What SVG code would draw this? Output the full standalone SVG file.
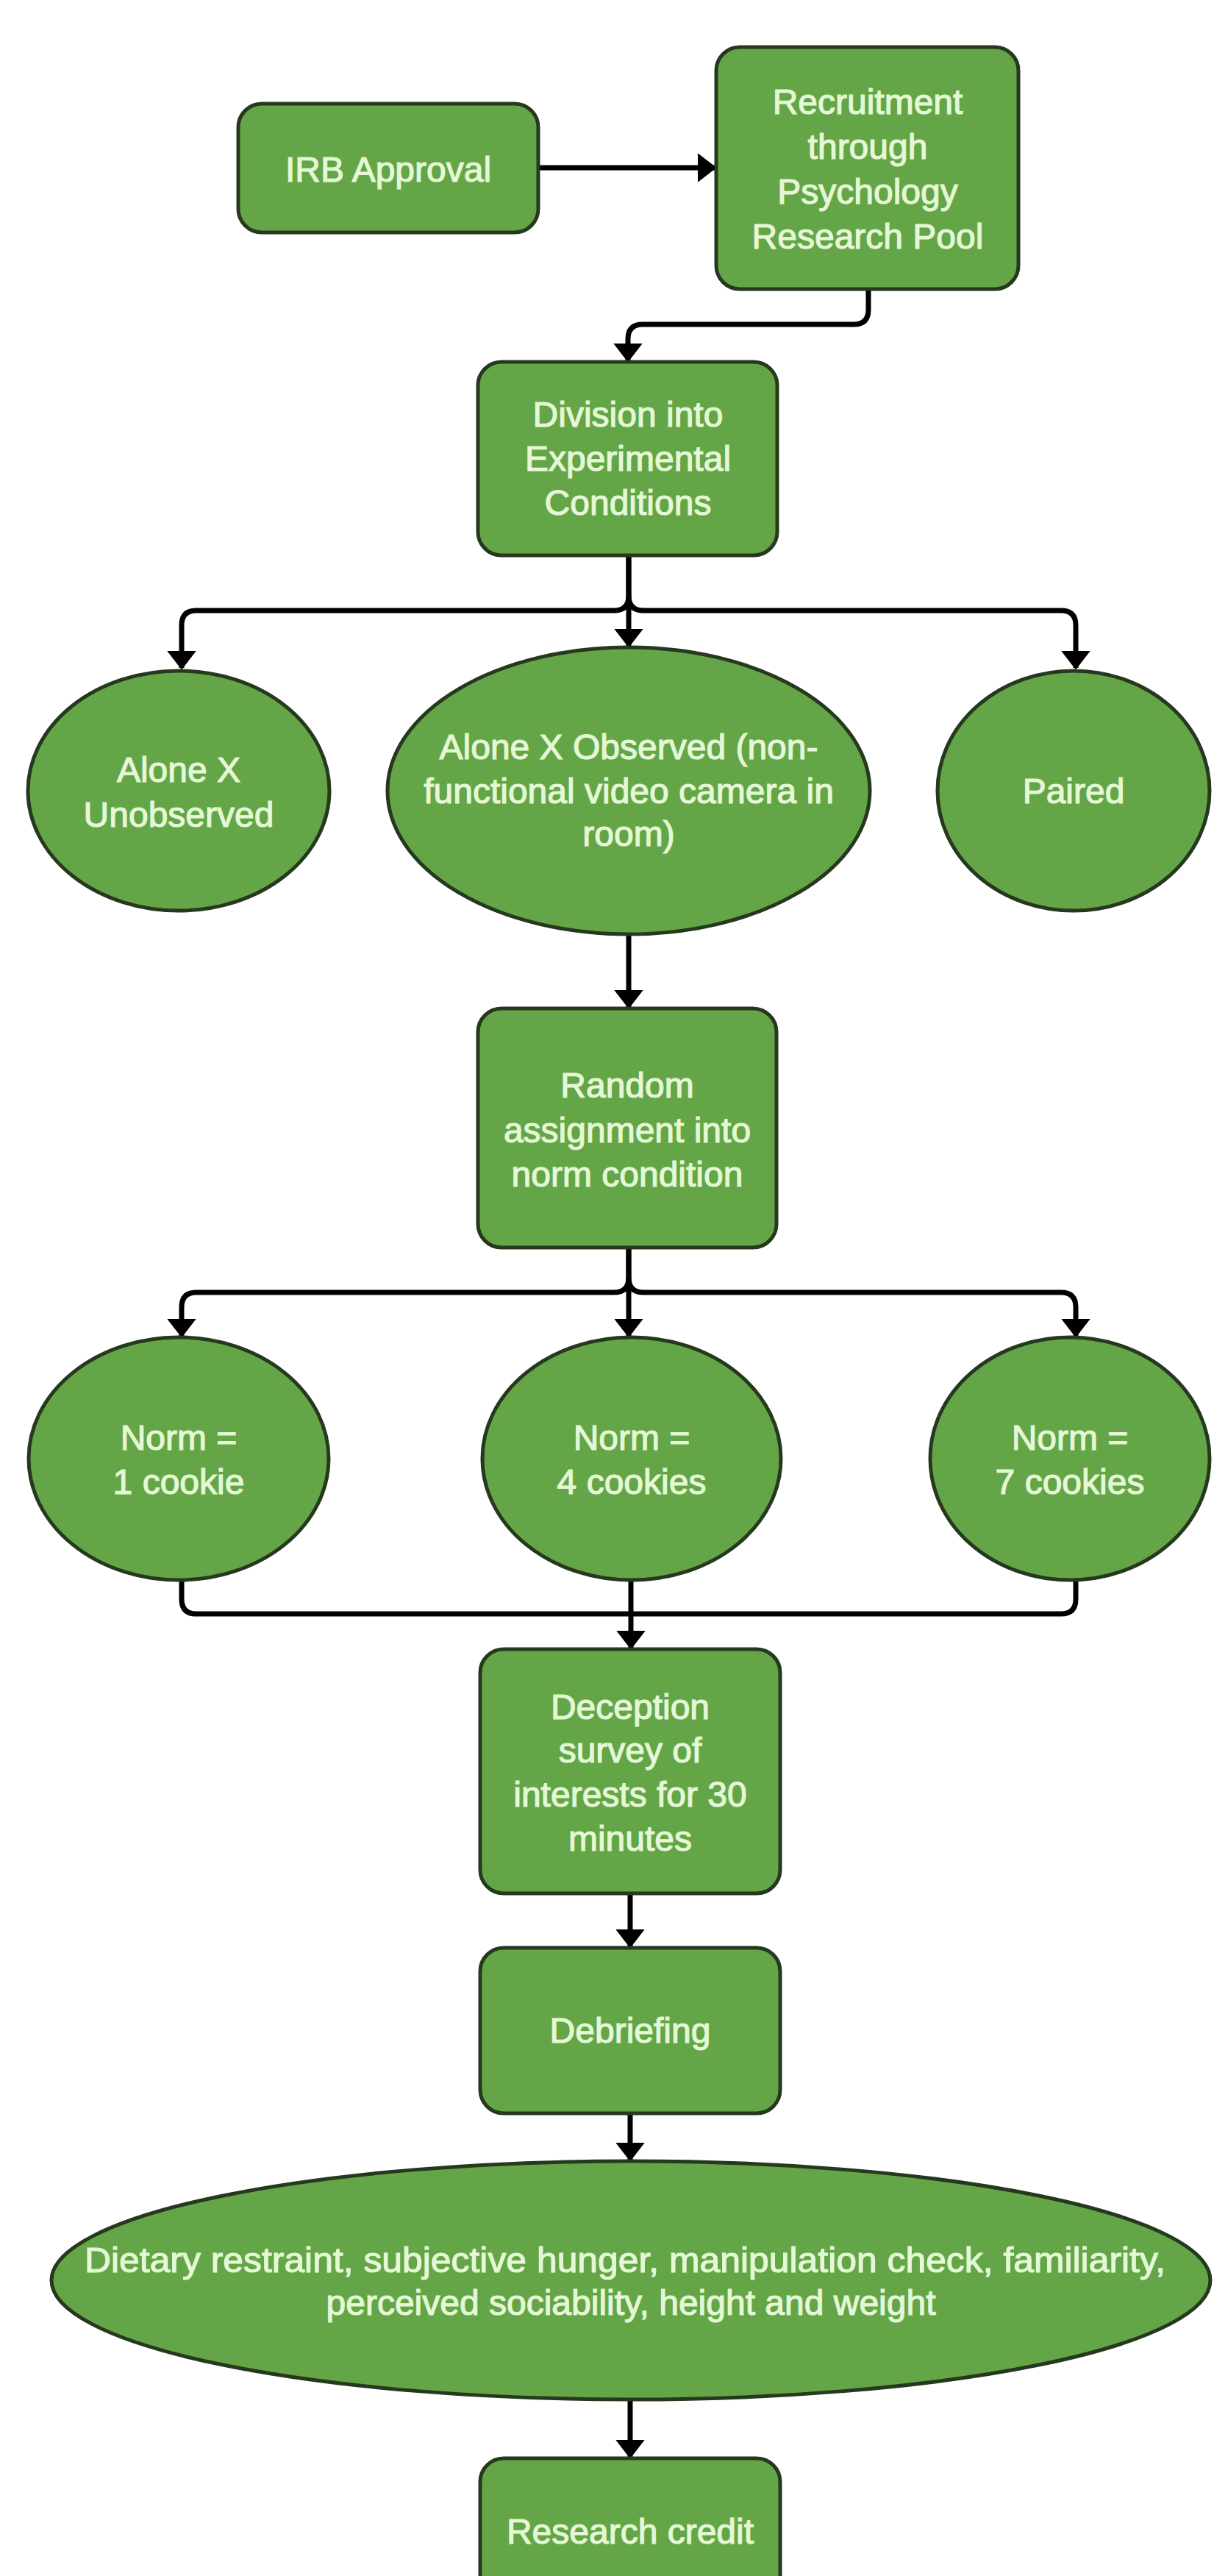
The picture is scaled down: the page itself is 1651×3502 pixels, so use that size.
<svg xmlns="http://www.w3.org/2000/svg" width="1651" height="3502" viewBox="0 0 1651 3502">
<defs>
<style>
.n{fill:#64a647;stroke:#26391f;stroke-width:5}
.t{font-family:"Liberation Sans",Arial,sans-serif;font-size:48px;fill:#e4f8d6;stroke:#e4f8d6;stroke-width:1.2;text-anchor:middle}
.c{fill:none;stroke:#000;stroke-width:7;stroke-linejoin:round}
</style>
<marker id="ah" viewBox="0 0 10 10" refX="9" refY="5" markerUnits="userSpaceOnUse" markerWidth="26" markerHeight="40" preserveAspectRatio="none" orient="auto">
<path d="M0,0 L10,5 L0,10 z" fill="#000"/>
</marker>
</defs>
<rect width="1651" height="3502" fill="#fff"/>
<g id="connectors">
<path class="c" d="M733,228 H972" marker-end="url(#ah)"/>
<path class="c" d="M1181,393 V421 Q1181,441 1161,441 H874 Q854,441 854,461 V490" marker-end="url(#ah)"/>
<path class="c" d="M855,755 V810 Q855,830 835,830 H267 Q247,830 247,850 V908" marker-end="url(#ah)"/>
<path class="c" d="M855,810 Q855,830 875,830 H1443 Q1463,830 1463,850 V908" marker-end="url(#ah)"/>
<path class="c" d="M855,755 V878" marker-end="url(#ah)"/>
<path class="c" d="M855,1270 V1369" marker-end="url(#ah)"/>
<path class="c" d="M855,1696 V1737 Q855,1757 835,1757 H267 Q247,1757 247,1777 V1816" marker-end="url(#ah)"/>
<path class="c" d="M855,1737 Q855,1757 875,1757 H1443 Q1463,1757 1463,1777 V1816" marker-end="url(#ah)"/>
<path class="c" d="M855,1696 V1816" marker-end="url(#ah)"/>
<path class="c" d="M247,2148 V2174 Q247,2194 267,2194 H855"/>
<path class="c" d="M1463,2148 V2174 Q1463,2194 1443,2194 H855"/>
<path class="c" d="M858,2148 V2240" marker-end="url(#ah)"/>
<path class="c" d="M857,2574 V2646" marker-end="url(#ah)"/>
<path class="c" d="M857,2873 V2936" marker-end="url(#ah)"/>
<path class="c" d="M857,3262 V3340" marker-end="url(#ah)"/>
</g>
<g id="irb">
<rect class="n" x="324" y="141" width="408" height="175" rx="32"/>
<text class="t" x="528" y="247">IRB Approval</text>
</g>
<g id="recruitment">
<rect class="n" x="974" y="64" width="411" height="329" rx="32"/>
<text class="t" x="1180" y="155">Recruitment</text>
<text class="t" x="1180" y="216">through</text>
<text class="t" x="1180" y="277">Psychology</text>
<text class="t" x="1180" y="338">Research Pool</text>
</g>
<g id="division">
<rect class="n" x="650" y="492" width="407" height="263" rx="32"/>
<text class="t" x="854" y="580">Division into</text>
<text class="t" x="854" y="640">Experimental</text>
<text class="t" x="854" y="700">Conditions</text>
</g>
<g id="alone-unobserved">
<ellipse class="n" cx="243" cy="1075" rx="205" ry="163"/>
<text class="t" x="243" y="1063">Alone X</text>
<text class="t" x="243" y="1124">Unobserved</text>
</g>
<g id="alone-observed">
<ellipse class="n" cx="855" cy="1075" rx="328" ry="195"/>
<text class="t" x="855" y="1032">Alone X Observed (non-</text>
<text class="t" x="855" y="1092">functional video camera in</text>
<text class="t" x="855" y="1150">room)</text>
</g>
<g id="paired">
<ellipse class="n" cx="1460" cy="1075" rx="185" ry="163"/>
<text class="t" x="1460" y="1092">Paired</text>
</g>
<g id="random">
<rect class="n" x="650" y="1371" width="406" height="325" rx="32"/>
<text class="t" x="853" y="1492">Random</text>
<text class="t" x="853" y="1553">assignment into</text>
<text class="t" x="853" y="1613">norm condition</text>
</g>
<g id="norm1">
<ellipse class="n" cx="243" cy="1983" rx="204" ry="165"/>
<text class="t" x="243" y="1971">Norm =</text>
<text class="t" x="243" y="2031">1 cookie</text>
</g>
<g id="norm4">
<ellipse class="n" cx="859" cy="1983" rx="203" ry="165"/>
<text class="t" x="859" y="1971">Norm =</text>
<text class="t" x="859" y="2031">4 cookies</text>
</g>
<g id="norm7">
<ellipse class="n" cx="1455" cy="1983" rx="190" ry="165"/>
<text class="t" x="1455" y="1971">Norm =</text>
<text class="t" x="1455" y="2031">7 cookies</text>
</g>
<g id="deception">
<rect class="n" x="653" y="2242" width="408" height="332" rx="32"/>
<text class="t" x="857" y="2337">Deception</text>
<text class="t" x="857" y="2396">survey of</text>
<text class="t" x="857" y="2456">interests for 30</text>
<text class="t" x="857" y="2516">minutes</text>
</g>
<g id="debriefing">
<rect class="n" x="653" y="2648" width="408" height="225" rx="32"/>
<text class="t" x="857" y="2777">Debriefing</text>
</g>
<g id="measures">
<ellipse class="n" cx="858" cy="3100" rx="788" ry="162"/>
<text class="t" x="850" y="3089" textLength="1470" lengthAdjust="spacingAndGlyphs">Dietary restraint, subjective hunger, manipulation check, familiarity,</text>
<text class="t" x="858" y="3147">perceived sociability, height and weight</text>
</g>
<g id="credit">
<rect class="n" x="653" y="3342" width="408" height="220" rx="32"/>
<text class="t" x="857" y="3458">Research credit</text>
</g>
</svg>
